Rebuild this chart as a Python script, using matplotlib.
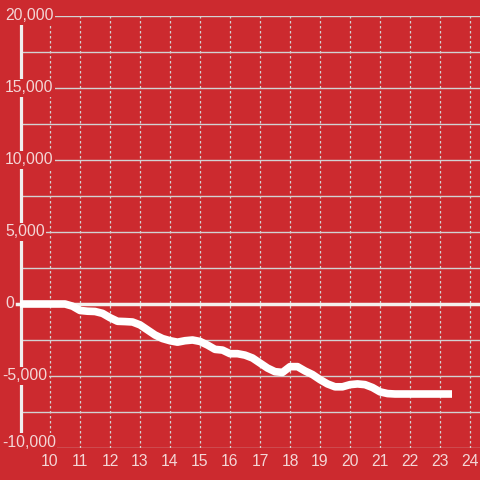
import numpy as np
import matplotlib
matplotlib.use('Agg')
import matplotlib.pyplot as plt
import matplotlib.transforms as mtransforms

hours = [9.0, 9.5, 10.0, 10.5, 10.75, 11.0, 11.25, 11.5, 11.75, 12.0, 12.25, 12.5, 12.75,
         13.0, 13.25, 13.5, 13.75, 14.0, 14.25, 14.5, 14.75, 15.0, 15.25, 15.5, 15.75,
         16.0, 16.25, 16.5, 16.75, 17.0, 17.25, 17.5, 17.75, 18.0, 18.25, 18.5, 18.75,
         19.0, 19.25, 19.5, 19.75, 20.0, 20.25, 20.5, 20.75, 21.0, 21.25, 21.5, 22.0,
         22.5, 23.0, 23.4]
values = [0, 0, 0, 0, -150, -450, -500, -520, -650, -950, -1200, -1220, -1250,
          -1450, -1800, -2150, -2400, -2550, -2650, -2550, -2500, -2600, -2850, -3150, -3200,
          -3450, -3450, -3550, -3750, -4100, -4450, -4700, -4750, -4350, -4350, -4650, -4900,
          -5250, -5550, -5750, -5750, -5600, -5550, -5600, -5800, -6100, -6220, -6250, -6250,
          -6250, -6250, -6250]
x_ticks = list(range(10, 25))
y_ticks = [-10000, -5000, 0, 5000, 10000, 15000, 20000]
y_labels = ['-10,000', '-5,000', '0', '5,000', '10,000', '15,000', '20,000']

bg = '#cc2a2f'
txt = '#f3d6d6'
grid = '#d2d2d2'

fig = plt.figure(figsize=(4.8, 4.8), dpi=100, facecolor=bg)
ax = fig.add_axes([20/480, 32/480, 460/480, 432/480], facecolor=bg)
ax.set_xlim(9.0, 9.0 + 460/30)
ax.set_ylim(-10000, 20000)
for s in ax.spines.values():
    s.set_visible(False)
ax.set_xticks([])
ax.set_yticks([])

# horizontal grid every 2500
for v in np.arange(-10000, 20001, 2500):
    ax.axhline(v, color=grid, lw=1, zorder=1)
# vertical dotted grid
for h in x_ticks:
    ax.axvline(h, color=grid, lw=0.9, ls=(0, (2, 2)), zorder=1)

mixed = mtransforms.blended_transform_factory(ax.transAxes, ax.transData)

# left axis line
ax.plot([0.5/460, 0.5/460], [0, (448-24)/432], transform=ax.transAxes, color='#f0eeee', lw=2.3,
        zorder=1.5, solid_capstyle='butt', clip_on=False)

# tick labels (boxes hide the lines behind them)
for h in x_ticks:
    ax.annotate(str(h), xy=(h, -10000), xytext=(0, -13), textcoords='offset pixels',
                ha='center', va='center', color=txt, fontsize=11.3, family='Liberation Sans',
                annotation_clip=False)
for v, lab in zip(y_ticks, y_labels):
    yv = v + 400 if v == -10000 else v
    px = 2 if v < 0 else 5
    ax.text((px - 20)/460, yv, lab, transform=mixed, ha='left', va='center', color=txt,
            fontsize=11.3, family='Liberation Sans', zorder=2,
            bbox=dict(facecolor=bg, edgecolor='none', pad=1))

# zero line
ax.plot([-3/460, 1], [0, 0], transform=mixed, color='#f4f0ee', lw=2.5, zorder=3, clip_on=False)

ax.plot(hours, values, color='white', lw=5.5, zorder=4, solid_joinstyle='round',
        solid_capstyle='butt', clip_on=False)

fig.savefig('out.png', dpi=100, facecolor=bg)
